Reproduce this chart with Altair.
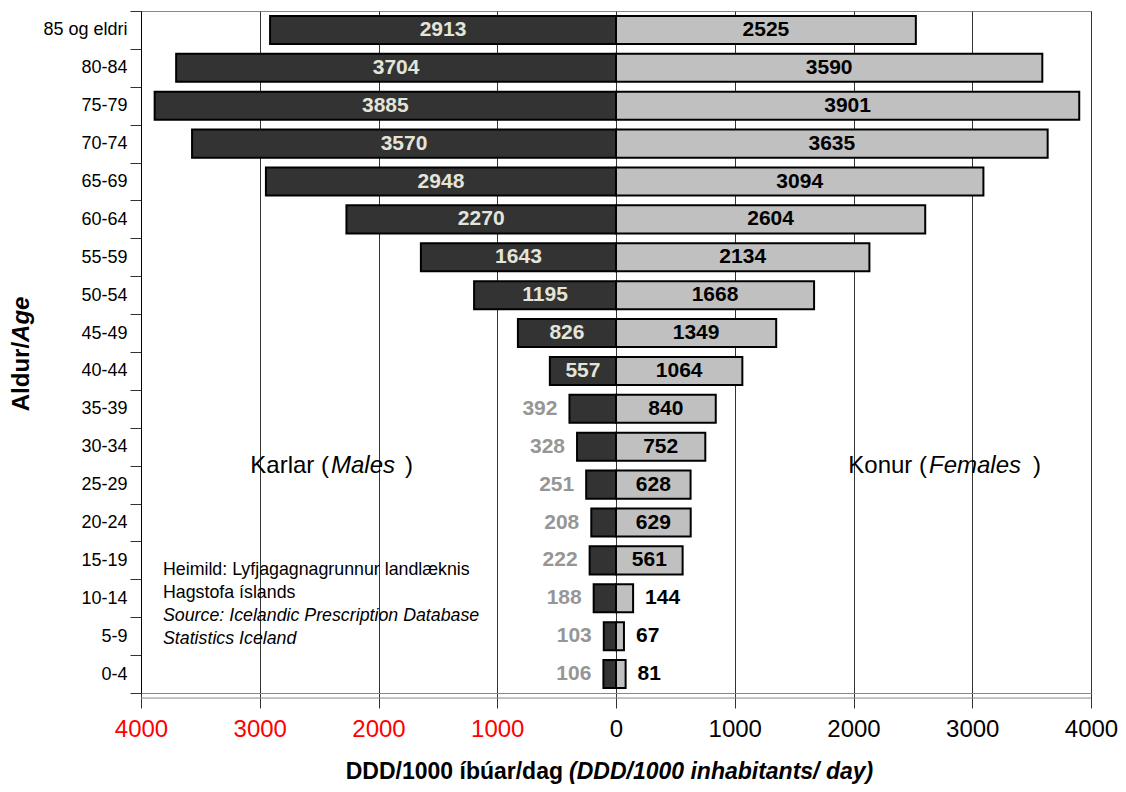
import altair as alt
import pandas as pd

ages = ["85 og eldri", "80-84", "75-79", "70-74", "65-69", "60-64", "55-59",
        "50-54", "45-49", "40-44", "35-39", "30-34", "25-29", "20-24",
        "15-19", "10-14", "5-9", "0-4"]
males = [2913, 3704, 3885, 3570, 2948, 2270, 1643, 1195, 826, 557,
         392, 328, 251, 208, 222, 188, 103, 106]
females = [2525, 3590, 3901, 3635, 3094, 2604, 2134, 1668, 1349, 1064,
           840, 752, 628, 629, 561, 144, 67, 81]
x_ticks = [-4000, -3000, -2000, -1000, 0, 1000, 2000, 3000, 4000]

FONT = "Liberation Sans"

rows = []
for a, m, f in zip(ages, males, females):
    rows.append(dict(age=a, sex="Karlar", value=m, x=-m, zero=0, mid=-m / 2, inside=bool(m >= 500)))
    rows.append(dict(age=a, sex="Konur", value=f, x=f, zero=0, mid=f / 2, inside=bool(f >= 500)))
df = pd.DataFrame(rows)

Y = alt.Y("age:N", sort=ages,
          scale=alt.Scale(paddingInner=0, paddingOuter=0),
          axis=alt.Axis(title=None, tickBand="extent", tickSize=11, tickColor="#333333",
                        labelFontSize=18, labelColor="black", labelPadding=3,
                        labelFont=FONT, domainColor="black", domainWidth=1, grid=False))
X = alt.X("x:Q",
          scale=alt.Scale(domain=[-4000, 4000], nice=False, zero=False),
          axis=alt.Axis(title=None, values=x_ticks,
                        labelExpr="format(abs(datum.value), 'd')",
                        labelColor={"condition": {"test": "datum.value < 0", "value": "#ff0000"},
                                    "value": "black"},
                        labelFontSize=24, labelFont=FONT, labelPadding=9,
                        tickSize=15, tickColor="#333333",
                        domainColor="#888888", grid=True, gridColor="#333333",
                        gridWidth=1, labelFlush=False))

base = alt.Chart(df)

bars = base.mark_bar(stroke="black", strokeWidth=2, height={"band": 0.74}).encode(
    x=X, x2="zero:Q", y=Y,
    color=alt.Color("sex:N", scale=alt.Scale(domain=["Karlar", "Konur"],
                                             range=["#333333", "#c0c0c0"]), legend=None),
)

m_in = base.transform_filter("datum.sex == 'Karlar' && datum.inside").mark_text(
    font=FONT, fontSize=21, fontWeight="bold", color="#e4e4d8", baseline="middle"
).encode(x="mid:Q", y=Y, text="value:Q")

m_out = base.transform_filter("datum.sex == 'Karlar' && !datum.inside").mark_text(
    font=FONT, fontSize=21, fontWeight="bold", color="#969696", align="right",
    baseline="middle", dx=-12
).encode(x="x:Q", y=Y, text="value:Q")

f_in = base.transform_filter("datum.sex == 'Konur' && datum.inside").mark_text(
    font=FONT, fontSize=21, fontWeight="bold", color="black", baseline="middle"
).encode(x="mid:Q", y=Y, text="value:Q")

f_out = base.transform_filter("datum.sex == 'Konur' && !datum.inside").mark_text(
    font=FONT, fontSize=21, fontWeight="bold", color="black", align="left",
    baseline="middle", dx=12
).encode(x="x:Q", y=Y, text="value:Q")

# second (lower) line of the double baseline, just under the plot frame
base_rule = alt.Chart(pd.DataFrame({"x": [-4000], "x2": [4000], "age": ["0-4"]})).mark_rule(
    color="#888888", strokeWidth=1, yOffset=24
).encode(x="x:Q", x2="x2:Q", y=Y)


def note(text, xval, age, size, align="left", style="normal", weight="normal",
         dx=0, dy=0, angle=0):
    d = pd.DataFrame({"x": [xval], "age": [age], "t": [text]})
    kw = dict(font=FONT, fontSize=size, fontStyle=style, fontWeight=weight,
              align=align, baseline="middle", color="black", dx=dx, dy=dy)
    if angle:
        kw["angle"] = angle
    return alt.Chart(d).mark_text(**kw).encode(x="x:Q", y=Y, text="t:N")


notes = [
    note("Karlar (", -2417, "25-29", 24, align="right", dy=-19),
    note("Males", -2400, "25-29", 24, style="italic", dy=-19),
    note(")", -1777, "25-29", 24, dy=-19),
    note("Konur (", 2619, "25-29", 24, align="right", dy=-19),
    note("Females", 2636, "25-29", 24, style="italic", dy=-19),
    note(")", 3512, "25-29", 24, dy=-19),
    note("Heimild: Lyfjagagnagrunnur landlæknis", -3815, "15-19", 17.8, dy=10),
    note("Hagstofa íslands", -3815, "10-14", 17.8, dy=-5),
    note("Source: Icelandic Prescription Database", -3815, "10-14", 17.8, style="italic", dy=18),
    note("Statistics Iceland", -3815, "5-9", 17.8, style="italic", dy=3),
    note("DDD/1000 íbúar/dag", -421, "0-4", 23, align="right", weight="bold", dx=-3, dy=98),
    note("(DDD/1000 inhabitants/ day)", -421, "0-4", 23, weight="bold", style="italic", dx=3, dy=98),
    note("Aldur/", -5002, "40-44", 24, align="right", weight="bold", angle=270, dx=29),
    note("Age", -5002, "40-44", 24, align="left", weight="bold", style="italic", angle=270, dx=29),
]

chart = alt.layer(bars, base_rule, m_in, m_out, f_in, f_out, *notes).properties(
    width=950, height=682,
    autosize=alt.AutoSizeParams(type="none"),
    padding={"left": 133, "top": 3, "right": 27, "bottom": 91},
    background="white",
).configure_view(stroke="#888888", strokeWidth=1)

chart.save("out.html", embed_options={"renderer": "svg", "actions": False})
